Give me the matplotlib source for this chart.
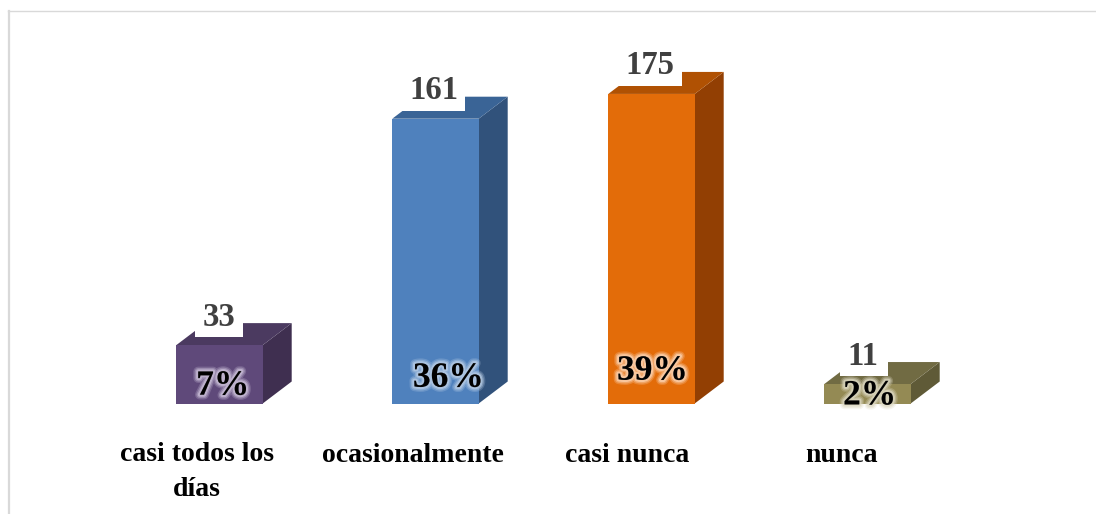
import matplotlib
matplotlib.use("Agg")
import matplotlib.pyplot as plt
import matplotlib.patheffects as pe
from matplotlib.lines import Line2D

plt.rcParams['font.family'] = ['Liberation Serif', 'DejaVu Serif']

categorias = ["casi todos los\ndías", "ocasionalmente", "casi nunca", "nunca"]
valores = [33, 161, 175, 11]
porcentajes = ["7%", "36%", "39%", "2%"]

color_frente = ["#5F497A", "#4F81BD", "#E36C09", "#948A54"]
color_lado = ["#3F2F50", "#31527B", "#923F03", "#5F5A37"]
color_tapa = ["#4B3A60", "#3A6496", "#B05103", "#716B43"]
color_brillo = ["#CCC1DA", "#B9CDE5", "#FCD5B5", "#DDD9C3"]

W, H = 1096, 514
px_x = 216.0     # pixeles por categoria
px_y = 1.769     # pixeles por unidad
x0, y0 = 219.5, 403.5
ancho = 0.40
dx, dy = 29 / px_x, 22 / px_y

# alto del % dentro de la barra, en unidades del eje
pct_y = [11.5, 16, 20, 6]
pct_x = [0.015, 0.06, 0.005, 0.01]
cat_x = [-0.105, -0.105, -0.115, -0.12]
val_x = [0, -1.3, -1.3, -3.4]    # puntos
caja_x = [0, -0.012, -0.009, -0.016]

fig = plt.figure(figsize=(W / 100, H / 100), dpi=100)
ax = fig.add_axes([0, 0, 1, 1])
ax.set_xlim(-x0 / px_x, (W - x0) / px_x)
ax.set_ylim((y0 - H) / px_y, y0 / px_y)
ax.axis("off")

# borde del grafico
fig.add_artist(Line2D([9 / W, 9 / W], [0, 1 - 11 / H], color="#D9D9D9", lw=1.6))
fig.add_artist(Line2D([8 / W, 1], [1 - 11 / H, 1 - 11 / H], color="#D9D9D9", lw=1.0))

for i, v in enumerate(valores):
    izq, der = i - ancho / 2, i + ancho / 2
    ax.fill([der, der + dx, der + dx, der], [0, dy, v + dy, v], color=color_lado[i], lw=0)
    ax.fill([izq, izq + dx, der + dx, der], [v, v + dy, v + dy, v], color=color_tapa[i], lw=0)

ax.bar(range(len(valores)), valores, width=ancho, color=color_frente, lw=0, zorder=2)

for i, v in enumerate(valores):
    # caja blanca detras del numero, tapa parte de la cara superior
    ancho_caja = (64 if v >= 100 else 48) / px_x
    ax.bar(i + caja_x[i], 40 / px_y, width=ancho_caja, bottom=v + 8 / px_y,
           color="white", lw=0, zorder=2.5)
    ax.annotate(str(v), xy=(i, v), xytext=(val_x[i], 14), textcoords="offset points",
                ha="center", va="baseline", fontsize=23.5, fontweight="bold", color="#404040",
                zorder=3)
    brillo = [pe.withStroke(linewidth=w, foreground=color_brillo[i], alpha=a)
              for w, a in ((7, 0.25), (5, 0.4), (3, 0.7))]
    ax.text(i + pct_x[i], pct_y[i] - 1.7, porcentajes[i], ha="center", va="center",
            fontsize=25.5, fontweight="bold", color="black", zorder=4, path_effects=brillo)
    if i == 0:
        # la primera etiqueta ocupa dos lineas
        ax.text(i + cat_x[i], -(442 - y0) / px_y, categorias[i], ha="center", va="top",
                fontsize=20, fontweight="bold", color="black", linespacing=1.5)
    else:
        ax.text(i + cat_x[i], -(453 - y0) / px_y, categorias[i], ha="center", va="center_baseline",
                fontsize=20, fontweight="bold", color="black")

fig.savefig("out.png", dpi=100)
